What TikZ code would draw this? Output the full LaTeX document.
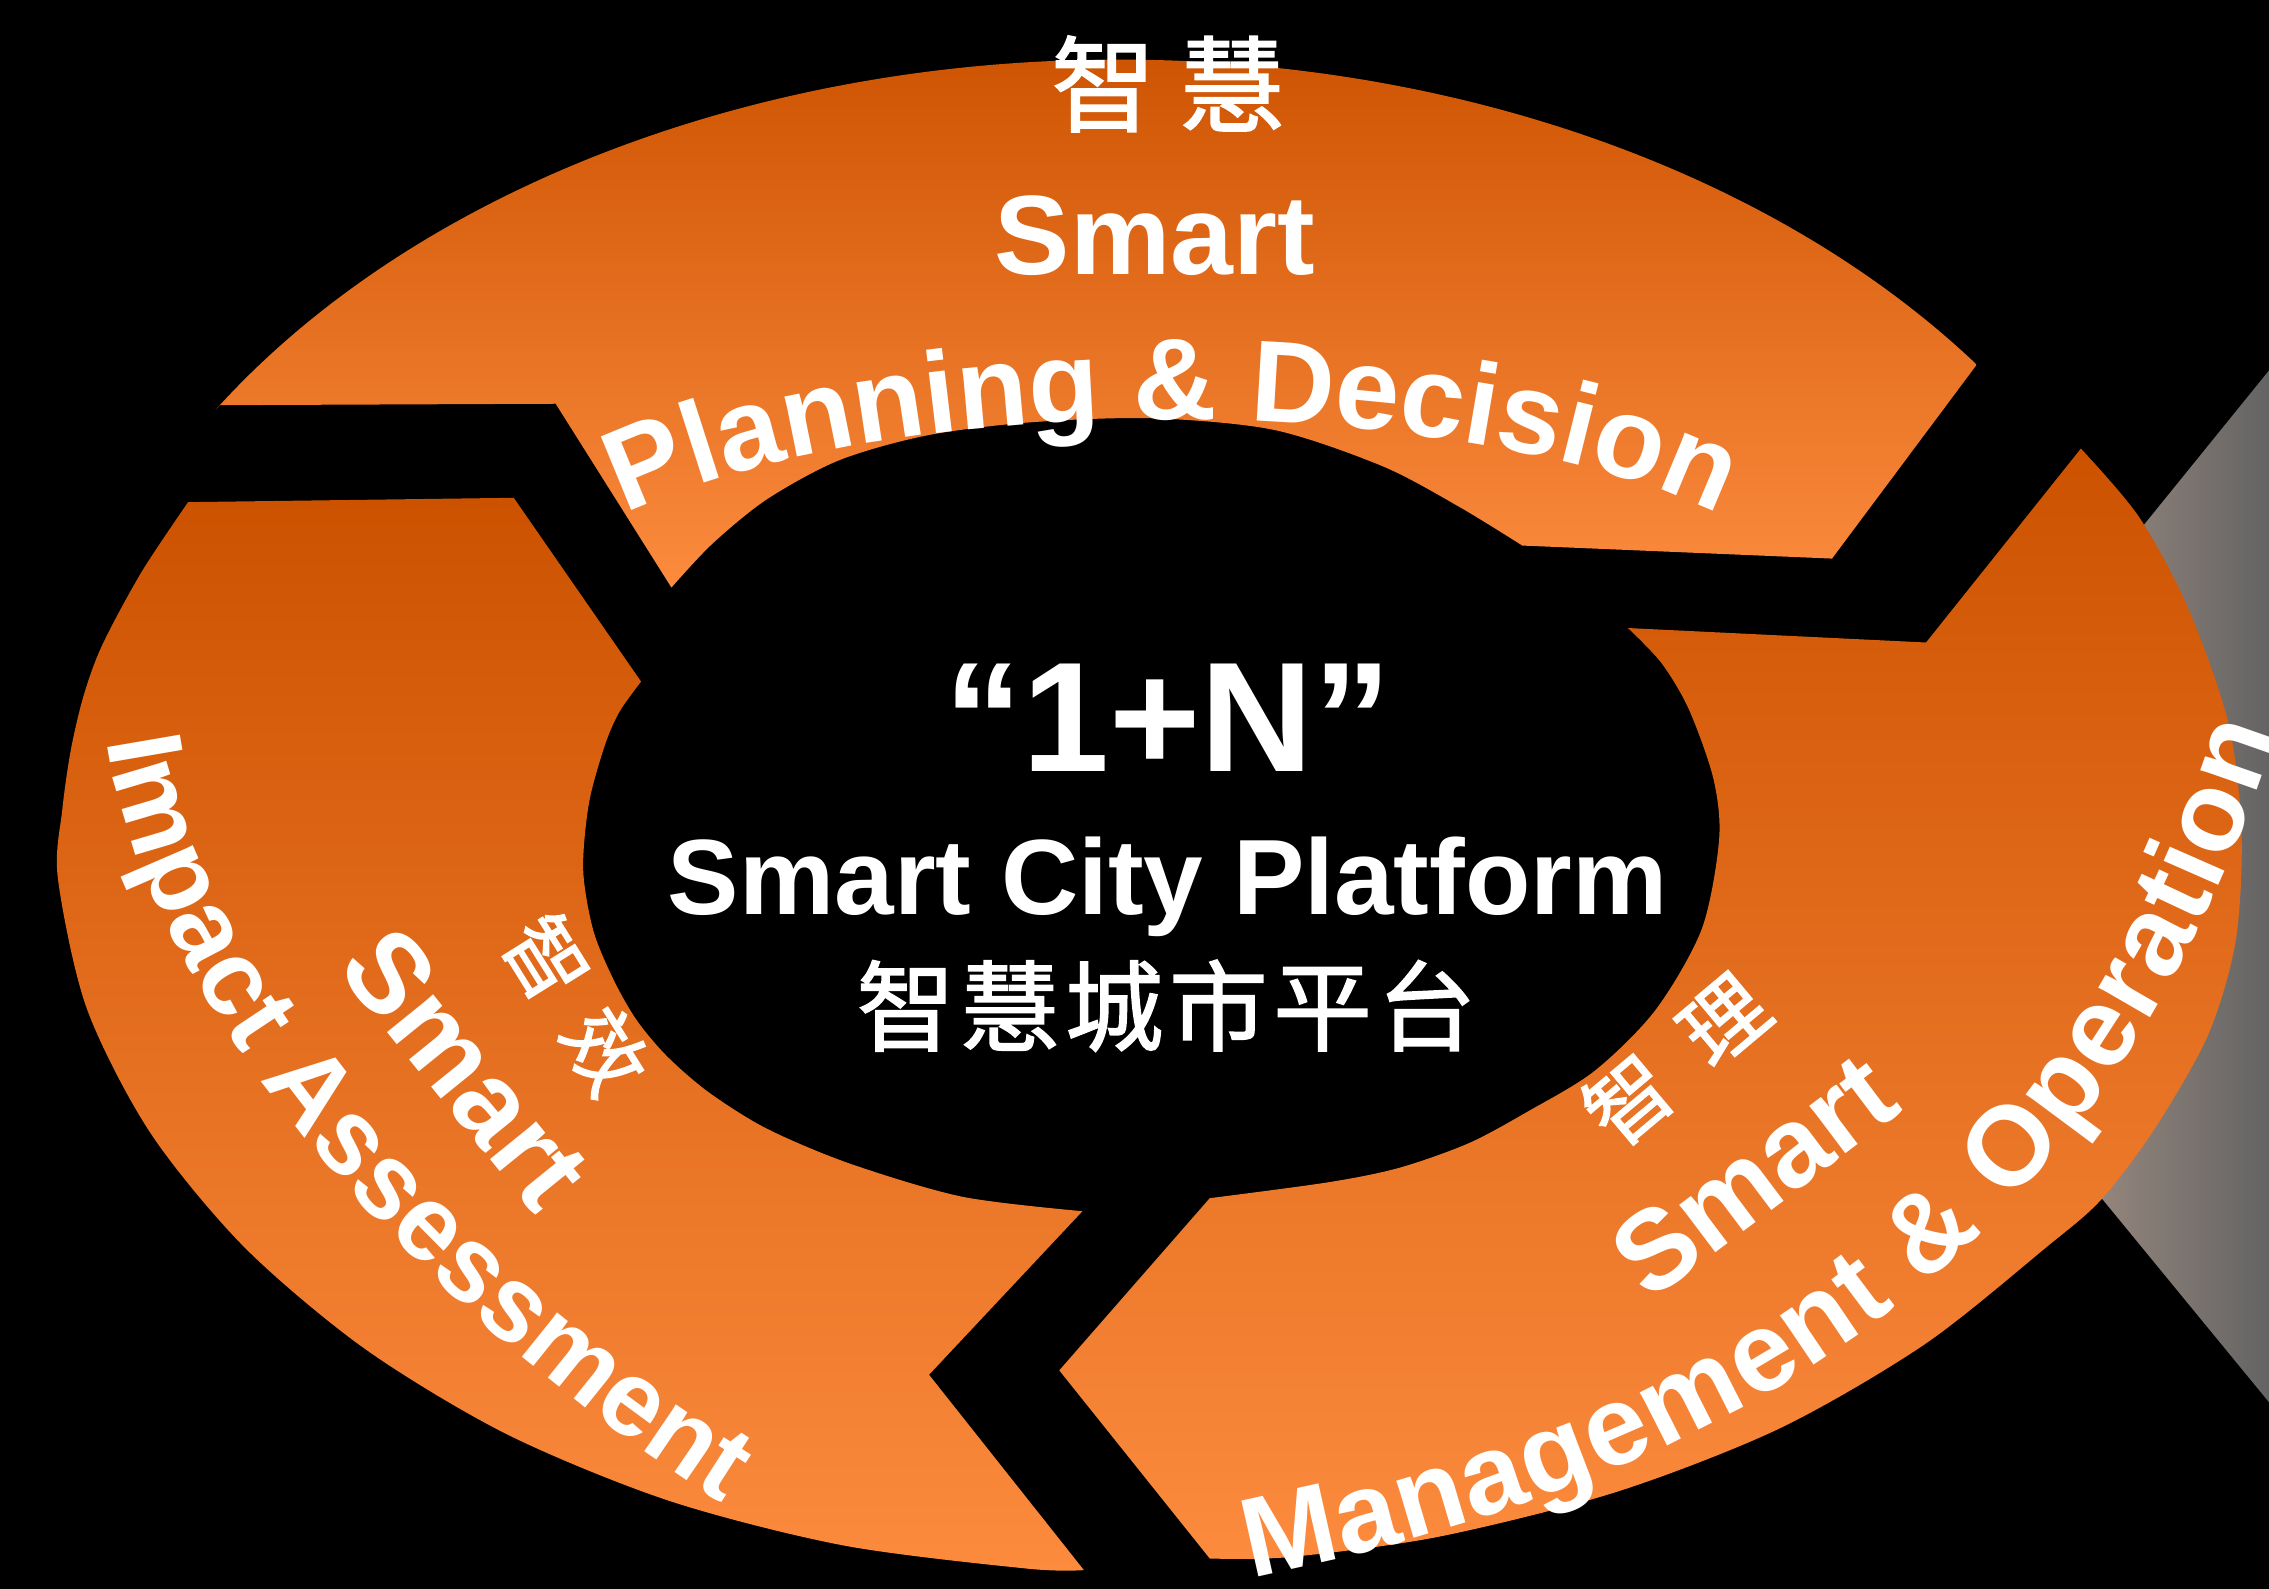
\documentclass[tikz,border=0pt]{standalone}
\usepackage{fontspec}
\setmainfont{Liberation Sans}
\newfontfamily\cjkfont{Noto Sans CJK TC}[UprightFeatures={FakeBold=1.6}]
\usetikzlibrary{decorations.text}
\definecolor{ordark}{RGB}{204,82,0}
\definecolor{orlight}{RGB}{252,139,62}
\definecolor{greyL}{RGB}{152,136,126}
\definecolor{greyR}{RGB}{100,100,100}
\newcommand\toptxt{\fontsize{40}{42}\selectfont\bfseries}
\newcommand\sidetxt{\fontsize{39}{41}\selectfont\bfseries}
\newcommand\lefttxt{\fontsize{37}{39}\selectfont\bfseries}
\begin{document}
\begin{tikzpicture}[x=0.5pt,y=-0.5pt,
  seg/.style={top color=ordark,bottom color=orlight,draw=none},
  wlbl/.style={text=white,inner sep=0pt,font=\bfseries\fontsize{39}{40}\selectfont},
  cjk/.style={text=white,inner sep=0pt},
  arctext/.style={decorate,decoration={text along path,text align=center,text color=white,text={#1}}},
  lefttext/.style={decorate,decoration={text along path,text color=white,text={#1}}},
  risetext/.style={decorate,decoration={text along path,raise=-13pt,text color=white,text={#1}}}]
\useasboundingbox (0,0) rectangle (1568,1098);
\fill[black] (0,0) rectangle (1568,1098);
% grey chevron behind the ring
\shade[left color=greyL,right color=greyR] (1568,256) -- (1440,414) -- (1440,813) -- (1568,969) -- cycle;
% top segment
\shade[seg] (152,280) -- (384,279) -- (464,406)
  -- plot[smooth] coordinates {(464,406) (492,376) (530,345) (580,318) (640,301) (710,292) (795,289) (880,297) (955,322) (1008,350) (1052,377)}
  -- (1266,386) -- (1366,252)
  arc[start angle=323.3,end angle=212.6,x radius=740,y radius=524]
  -- cycle;
% right segment
\shade[seg] (1125,434) -- (1331,444) -- (1438,310)
  -- plot[smooth] coordinates {(1438,310) (1478,357) (1512,420) (1540,500) (1549,575) (1545,650) (1526,715) (1489,780) (1452,829) (1414,862) (1330,929) (1230,987) (1117,1031) (994,1062) (891,1076) (836,1077)}
  -- (732,947) -- (836,828)
  -- plot[smooth] coordinates {(836,828) (918,817) (967,807) (1015,790) (1056,768) (1102,740) (1144,698) (1176,642) (1188,580) (1184,538) (1167,490) (1148,458) (1125,434)}
  -- cycle;
% left segment
\shade[seg] (130,347) -- (355,344) -- (443,471)
  -- plot[smooth] coordinates {(443,471) (428,492) (418,515) (407,555) (403,601) (410,643) (424,677) (440,705) (461,730) (490,755) (530,780) (587,804) (665,827) (748,837)}
  -- (642,950) -- (749,1085)
  -- plot[smooth] coordinates {(749,1085) (710,1084) (583,1068) (462,1037) (350,991) (252,932) (169,862) (104,783) (60,697) (40,607) (43,560) (49,518) (58,480) (71,445) (98,395) (130,347)}
  -- cycle;
% top texts
\node[cjk,font=\cjkfont\fontsize{36}{36}\selectfont] (tzh) at (807,58) {智\hspace{8.5pt}慧};
\node[wlbl,anchor=base] (tsm) at (798,190) {Smart};
\path[arctext={|\toptxt|Planning {\&} Decision}] (810,430) ++(195:445 and 140) arc[start angle=195,end angle=345,x radius=445,y radius=140];
% centre texts
\node[wlbl,anchor=base,font=\bfseries\fontsize{54}{56}\selectfont] (c1) at (807,533) {“1+N”};
\node[wlbl,anchor=base,font=\bfseries\fontsize{37}{40}\selectfont] (c2) at (807,632) {Smart City Platform};
\node[cjk,font=\cjkfont\fontsize{34}{34}\selectfont] (c3) at (806,695) {智\hspace{2pt}慧\hspace{2pt}城\hspace{2pt}市\hspace{2pt}平\hspace{2pt}台};
% left texts
\node[cjk,rotate=-58,font=\cjkfont\fontsize{28}{28}\selectfont] (l1) at (398,694) {智\hspace{10pt}效};
\node[wlbl,rotate=-51] (l2) at (322,738) {Smart};
\path[lefttext={|\lefttxt|Impact Assessment}] (74,512) .. controls (100,700) and (310,940) .. (570,1080);
% right texts
\node[cjk,rotate=40,font=\cjkfont\fontsize{29}{29}\selectfont] (r1) at (1158,732) {智\hspace{14pt}理};
\node[wlbl,rotate=37] (r2) at (1212,812) {Smart};
\path[risetext={|\sidetxt|Management {\&} Operation}] (859,1065) .. controls (1300,975) and (1463,761) .. (1550,495);
\end{tikzpicture}
\end{document}
